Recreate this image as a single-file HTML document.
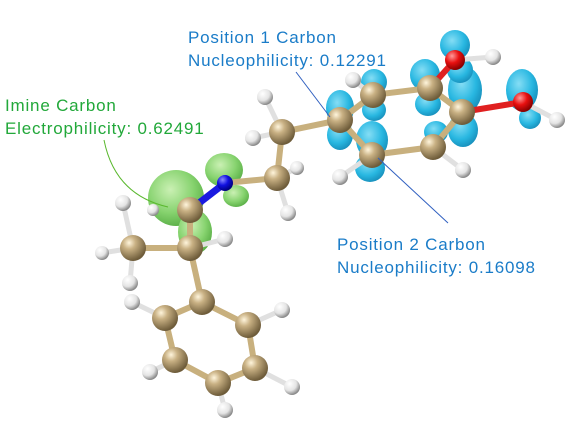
<!DOCTYPE html>
<html><head><meta charset="utf-8"><style>
html,body{margin:0;padding:0;background:#fff;width:575px;height:426px;overflow:hidden}
svg{display:block}
text{font-family:"Liberation Sans",sans-serif;font-size:17px;letter-spacing:0.8px}
</style></head><body>
<svg width="575" height="426" viewBox="0 0 575 426">
<defs>
<radialGradient id="gC" cx="35%" cy="30%" r="70%"><stop offset="0" stop-color="#fff5dc"/><stop offset="0.35" stop-color="#c9b184"/><stop offset="1" stop-color="#6e5c3a"/></radialGradient>
<radialGradient id="gH" cx="35%" cy="30%" r="70%"><stop offset="0" stop-color="#fff"/><stop offset="0.6" stop-color="#e4e4e4"/><stop offset="1" stop-color="#8a8a8a"/></radialGradient>
<radialGradient id="gO" cx="35%" cy="30%" r="70%"><stop offset="0" stop-color="#ff9a9a"/><stop offset="0.5" stop-color="#e81010"/><stop offset="1" stop-color="#800"/></radialGradient>
<radialGradient id="gN" cx="35%" cy="30%" r="70%"><stop offset="0" stop-color="#8a8aff"/><stop offset="0.5" stop-color="#1010e0"/><stop offset="1" stop-color="#000080"/></radialGradient>
<radialGradient id="gB" cx="40%" cy="35%" r="70%"><stop offset="0" stop-color="#7fdcf5"/><stop offset="0.6" stop-color="#1db4e0"/><stop offset="1" stop-color="#0a86b5"/></radialGradient>
<radialGradient id="gG" cx="40%" cy="35%" r="70%"><stop offset="0" stop-color="#c8f0b0"/><stop offset="0.6" stop-color="#7fd066"/><stop offset="1" stop-color="#4ea83a"/></radialGradient>
</defs>

<g opacity="0.95">
<ellipse cx="340" cy="108" rx="14" ry="18" fill="url(#gB)"/>
<ellipse cx="340" cy="135" rx="13" ry="15" fill="url(#gB)"/>
<ellipse cx="372" cy="140" rx="16" ry="19" fill="url(#gB)"/>
<ellipse cx="370" cy="168" rx="15" ry="14" fill="url(#gB)"/>
<ellipse cx="374" cy="82" rx="13" ry="13" fill="url(#gB)"/>
<ellipse cx="374" cy="110" rx="12" ry="11" fill="url(#gB)"/>
<ellipse cx="425" cy="75" rx="15" ry="16" fill="url(#gB)"/>
<ellipse cx="428" cy="104" rx="13" ry="12" fill="url(#gB)"/>
<ellipse cx="465" cy="90" rx="17" ry="23" fill="url(#gB)"/>
<ellipse cx="463" cy="130" rx="15" ry="17" fill="url(#gB)"/>
<ellipse cx="436" cy="132" rx="12" ry="11" fill="url(#gB)"/>
<ellipse cx="455" cy="45" rx="15" ry="15" fill="url(#gB)"/>
<ellipse cx="460" cy="70" rx="13" ry="13" fill="url(#gB)"/>
<ellipse cx="522" cy="90" rx="16" ry="21" fill="url(#gB)"/>
<ellipse cx="530" cy="118" rx="11" ry="11" fill="url(#gB)"/>
</g>
<g opacity="0.95">
<ellipse cx="176" cy="198" rx="28" ry="28" fill="url(#gG)"/>
<ellipse cx="195" cy="232" rx="17" ry="22" fill="url(#gG)"/>
<ellipse cx="224" cy="170" rx="19" ry="17" fill="url(#gG)"/>
<ellipse cx="236" cy="196" rx="13" ry="11" fill="url(#gG)"/>
</g>

<g stroke="#c8b07e" stroke-width="6" stroke-linecap="round">
<line x1="340" y1="120" x2="373" y2="95"/><line x1="373" y1="95" x2="430" y2="88"/><line x1="430" y1="88" x2="462" y2="112"/>
<line x1="462" y1="112" x2="433" y2="147"/><line x1="433" y1="147" x2="372" y2="155"/><line x1="372" y1="155" x2="340" y2="120"/>
<line x1="340" y1="120" x2="282" y2="132"/><line x1="282" y1="132" x2="277" y2="178"/><line x1="277" y1="178" x2="225" y2="183"/>
<line x1="190" y1="210" x2="190" y2="248"/><line x1="190" y1="248" x2="133" y2="248"/><line x1="190" y1="248" x2="202" y2="302"/>
<line x1="202" y1="302" x2="165" y2="318"/><line x1="165" y1="318" x2="175" y2="360"/><line x1="175" y1="360" x2="218" y2="383"/>
<line x1="218" y1="383" x2="255" y2="368"/><line x1="255" y1="368" x2="248" y2="325"/><line x1="248" y1="325" x2="202" y2="302"/>
<g stroke="#e0e0e0" stroke-width="5">
<line x1="373" y1="95" x2="353" y2="80"/><line x1="372" y1="155" x2="340" y2="177"/><line x1="433" y1="147" x2="463" y2="170"/>
<line x1="282" y1="132" x2="265" y2="97"/><line x1="282" y1="132" x2="253" y2="138"/><line x1="277" y1="178" x2="297" y2="168"/><line x1="277" y1="178" x2="288" y2="213"/>
<line x1="133" y1="248" x2="123" y2="203"/><line x1="133" y1="248" x2="130" y2="283"/><line x1="133" y1="248" x2="102" y2="253"/>
<line x1="190" y1="248" x2="225" y2="239"/><line x1="165" y1="318" x2="132" y2="302"/><line x1="175" y1="360" x2="150" y2="372"/>
<line x1="218" y1="383" x2="225" y2="410"/><line x1="255" y1="368" x2="292" y2="387"/><line x1="248" y1="325" x2="282" y2="310"/>
<line x1="455" y1="60" x2="493" y2="57"/><line x1="523" y1="102" x2="557" y2="120"/>
</g>
<line x1="430" y1="88" x2="455" y2="60" stroke="#e02020"/><line x1="462" y1="112" x2="523" y2="102" stroke="#e02020"/>
<line x1="225" y1="183" x2="190" y2="210" stroke="#1a1ae0" stroke-width="7"/>
</g>

<g fill="url(#gH)">
<circle cx="353" cy="80" r="8"/><circle cx="340" cy="177" r="8"/><circle cx="463" cy="170" r="8"/>
<circle cx="265" cy="97" r="8"/><circle cx="253" cy="138" r="8"/><circle cx="297" cy="168" r="7"/><circle cx="288" cy="213" r="8"/>
<circle cx="123" cy="203" r="8"/><circle cx="130" cy="283" r="8"/><circle cx="102" cy="253" r="7"/><circle cx="153" cy="210" r="6"/>
<circle cx="225" cy="239" r="8"/><circle cx="132" cy="302" r="8"/><circle cx="150" cy="372" r="8"/><circle cx="225" cy="410" r="8"/>
<circle cx="292" cy="387" r="8"/><circle cx="282" cy="310" r="8"/><circle cx="493" cy="57" r="8"/><circle cx="557" cy="120" r="8"/>
</g>
<g fill="url(#gC)">
<circle cx="340" cy="120" r="13"/><circle cx="372" cy="155" r="13"/><circle cx="373" cy="95" r="13"/><circle cx="430" cy="88" r="13"/>
<circle cx="462" cy="112" r="13"/><circle cx="433" cy="147" r="13"/><circle cx="282" cy="132" r="13"/><circle cx="277" cy="178" r="13"/>
<circle cx="190" cy="210" r="13"/><circle cx="190" cy="248" r="13"/><circle cx="133" cy="248" r="13"/><circle cx="202" cy="302" r="13"/>
<circle cx="165" cy="318" r="13"/><circle cx="175" cy="360" r="13"/><circle cx="218" cy="383" r="13"/><circle cx="255" cy="368" r="13"/><circle cx="248" cy="325" r="13"/>
</g>
<circle cx="455" cy="60" r="10" fill="url(#gO)"/>
<circle cx="523" cy="102" r="10" fill="url(#gO)"/>
<circle cx="225" cy="183" r="8" fill="url(#gN)"/>

<line x1="296" y1="72" x2="330" y2="117" stroke="#3060c0" stroke-width="1"/>
<line x1="448" y1="223" x2="378" y2="158" stroke="#3060c0" stroke-width="1"/>
<path d="M104 140 Q115 195 168 207" fill="none" stroke="#5ab82e" stroke-width="1"/>

<g fill="#22a83a">
<text x="5" y="111">Imine Carbon</text>
<text x="5" y="134">Electrophilicity: 0.62491</text>
</g>
<g fill="#1a7cc8">
<text x="188" y="43">Position 1 Carbon</text>
<text x="188" y="66">Nucleophilicity: 0.12291</text>
</g>
<g fill="#1a7cc8">
<text x="337" y="250">Position 2 Carbon</text>
<text x="337" y="273">Nucleophilicity: 0.16098</text>
</g>
</svg>
</body></html>
